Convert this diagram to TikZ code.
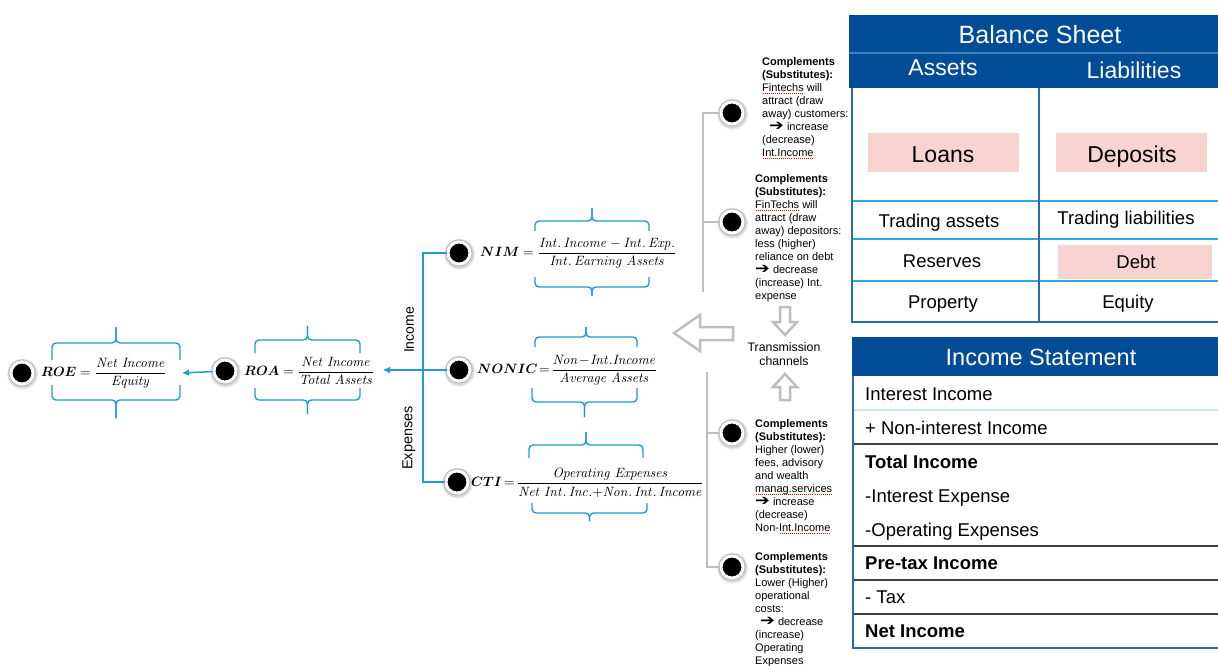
\documentclass[tikz,border=0pt]{standalone}
\usepackage{amsmath}
\usepackage{graphicx}
\usepackage[no-math]{fontspec}
\setmainfont{Liberation Sans}
\newfontfamily\dejavu{DejaVu Sans}
\usetikzlibrary{arrows.meta}
\definecolor{bblue}{RGB}{30,155,215}
\definecolor{dkblue}{RGB}{0,76,151}
\definecolor{steel}{RGB}{40,110,165}
\definecolor{ltline}{RGB}{41,170,225}
\definecolor{pale}{RGB}{200,232,246}
\definecolor{pink}{RGB}{248,212,208}
\definecolor{gline}{RGB}{190,190,190}
\definecolor{dgray}{RGB}{64,64,64}
\definecolor{midblue}{RGB}{70,130,195}
\DeclareMathAlphabet{\mathit}{OT1}{cmr}{m}{it}
\newsavebox\spellbox
\newcommand\spell[1]{\sbox\spellbox{#1}\rlap{\raisebox{-2.8pt}{\color{red}\hbox to \wd\spellbox{\xleaders\hbox to 2pt{\hss\rule{1pt}{0.7pt}\hss}\hfill}}}\usebox\spellbox}
\newcommand\arr{\raisebox{-0.3pt}{\scalebox{1.6}[1.35]{\dejavu ➔}}}
\newcommand\fml[1]{\scalebox{1.35}{$\displaystyle #1$}}
\newcommand\brk[5]{%
  \draw[brace] (#1,#4) |- ({(#1+#2)/2},#3) -- ({(#1+#2)/2},#5);
  \draw[brace] (#2,#4) |- ({(#1+#2)/2},#3) -- ({(#1+#2)/2},#5);}
\begin{document}
\begin{tikzpicture}[x=1pt,y=-1pt,
  bullet/.style={circle,fill=black,draw=white,line width=3pt,minimum size=22pt,inner sep=0pt,
    preaction={draw=black!8,line width=9pt,transform canvas={shift={(0.6pt,-1.2pt)}}},
    preaction={draw=black!16,line width=7pt,transform canvas={shift={(0.4pt,-0.8pt)}}},
    preaction={draw=black!28,line width=5pt}},
  brace/.style={draw=bblue,line width=1.4pt,rounded corners=4pt},
  bluearrow/.style={draw=bblue,line width=1.5pt,-{Latex[length=7pt,width=7pt]}},
  blueline/.style={draw=bblue,line width=1.5pt},
  grayline/.style={draw=gline,line width=1.5pt},
  hollow/.style={draw=gline,line width=2.5pt,fill=white,line join=miter},
  formula/.style={anchor=west,inner sep=0pt},
  comp/.style={anchor=north west,align=left,inner sep=0pt,font=\fontsize{11}{13}\selectfont},
  bstitle/.style={anchor=base,text=white,inner sep=0pt,font=\fontsize{25}{28}\selectfont},
  bshead/.style={anchor=base,text=white,inner sep=0pt,font=\fontsize{23}{26}\selectfont},
  cell/.style={anchor=base,inner sep=0pt,font=\fontsize{18.5}{21}\selectfont},
  bigcell/.style={anchor=base,inner sep=0pt,font=\fontsize{23}{26}\selectfont},
  pinkbox/.style={fill=pink,inner sep=0pt},
  isrow/.style={anchor=base west,inner sep=0pt,font=\fontsize{18.5}{21}\selectfont},
  isbold/.style={anchor=base west,inner sep=0pt,font=\fontsize{18.5}{21}\selectfont\bfseries},
  side/.style={rotate=90,inner sep=0pt}
]
\useasboundingbox (0,0) rectangle (1218,665);
\fill[white] (0,0) rectangle (1218,665);

% ---------- braces ----------
\brk{52}{180}{343}{360}{327}
\brk{52}{180}{400}{385}{418}
\brk{255}{360}{340}{353}{326}
\brk{255}{360}{400}{388}{414}
\brk{535}{649}{221}{231}{208}
\brk{535}{649}{287}{277}{296}
\brk{535}{637}{337}{347}{327}
\brk{532}{637}{402}{388}{417}
\brk{529}{643}{445}{458}{432}
\brk{532}{647}{513}{503}{521}

% ---------- bullets ----------
\node[bullet] (b-roe) at (22,373) {};
\node[bullet] (b-roa) at (225,371) {};
\node[bullet] (b-nim) at (459,253) {};
\node[bullet] (b-nonic) at (459,370) {};
\node[bullet] (b-cti) at (457,482) {};
\node[bullet] (b-c1) at (732,113) {};
\node[bullet] (b-c2) at (732,222) {};
\node[bullet] (b-c3) at (732,433) {};
\node[bullet] (b-c4) at (732,567) {};

% ---------- formulas ----------
\node[formula] (f-roe) at (41,373) {\fml{\boldsymbol{ROE}=\frac{\mathit{Net\ Income}}{\mathit{Equity}}}};
\node[formula] (f-roa) at (244,371) {\fml{\boldsymbol{ROA}=\frac{\mathit{Net\ Income}}{\mathit{Total\ Assets}}}};
\node[formula] (f-nim) at (480,253) {\fml{\boldsymbol{NIM}=\frac{\mathit{Int.\,Income}-\mathit{Int.\,Exp.}}{\mathit{Int.\,Earning\ Assets}}}};
\node[formula] (f-nonic) at (477,370) {\fml{\boldsymbol{NONIC}\!=\!\frac{\mathit{Non}\!-\!\mathit{Int.Income}}{\mathit{Average\ Assets}}}};
\node[formula] (f-cti) at (471,483) {\fml{\boldsymbol{CTI}\,{=}\,\frac{\mathit{Operating\ Expenses}}{\mathit{Net\ Int.\,Inc.}{+}\mathit{Non.\,Int.\,Income}}}};

% ---------- blue connectors ----------
\coordinate (roe-end) at (182,373);
\coordinate (roa-end) at (383,370);
\coordinate (vtop) at (423,253);
\coordinate (vbot) at (423,482);
\draw[bluearrow] (b-roa) -- (roe-end);
\draw[bluearrow] (b-nonic) -- (roa-end);
\draw[blueline] (b-nim) -- (vtop) -- (vbot) -- (b-cti);
\node[side,font=\fontsize{14}{16}\selectfont] (l-inc) at (409,330) {Income};
\node[side,font=\fontsize{14.5}{16}\selectfont] (l-exp) at (409,438) {Expenses};

% ---------- gray connectors ----------
\coordinate (g1) at (703,292);
\coordinate (g1top) at (703,113);
\coordinate (g1mid) at (703,222);
\coordinate (g2) at (707,372);
\coordinate (g2mid) at (707,433);
\coordinate (g2bot) at (707,567);
\draw[grayline] (g1) -- (g1top) -- (b-c1);
\draw[grayline] (g1mid) -- (b-c2);
\draw[grayline] (g2) -- (g2bot) -- (b-c4);
\draw[grayline] (g2mid) -- (b-c3);

% ---------- transmission ----------
\draw[hollow] (780,307) -- (790,307) -- (790,322) -- (797,322) -- (785,335) -- (773,322) -- (780,322) -- cycle;
\draw[hollow] (780,400) -- (790,400) -- (790,387) -- (797,387) -- (785,374) -- (773,387) -- (780,387) -- cycle;
\draw[hollow] (674,333) -- (700,315) -- (700,327) -- (733,327) -- (733,340) -- (700,340) -- (700,351) -- cycle;
\node[align=center,inner sep=0pt,font=\fontsize{12.3}{14}\selectfont] (trans) at (784,354) {Transmission\\channels};

% ---------- complement texts ----------
\node[comp] (t-c1) at (762,57) {\textbf{Complements}\\\textbf{(Substitutes):}\\\spell{Fintechs} will\\attract (draw\\away) customers:\\\hspace*{7pt}\arr\ increase\\(decrease)\\\spell{Int.Income}};
\node[comp] (t-c2) at (755,174) {\textbf{Complements}\\\textbf{(Substitutes):}\\\spell{FinTechs} will\\attract (draw\\away) depositors:\\less (higher)\\reliance on debt\\\arr\ decrease\\(increase) Int.\\expense};
\node[comp] (t-c3) at (755,419) {\textbf{Complements}\\\textbf{(Substitutes):}\\Higher (lower)\\fees, advisory\\and wealth\\\spell{manag.services}\\\arr\ increase\\(decrease)\\Non-\spell{Int.Income}};
\node[comp] (t-c4) at (755,552) {\textbf{Complements}\\\textbf{(Substitutes):}\\Lower (Higher)\\operational\\costs:\\\hspace*{5pt}\arr\ decrease\\(increase)\\Operating\\Expenses};

% ---------- balance sheet ----------
\fill[dkblue] (849,15) rectangle (1218,88);
\draw[midblue,line width=1.2pt] (849,53) -- (1218,53);
\draw[ltline,line width=1.5pt] (852,201) -- (1218,201);
\draw[ltline,line width=1.5pt] (852,239) -- (1218,239);
\draw[ltline,line width=1.5pt] (852,281) -- (1218,281);
\draw[steel,line width=2.5pt] (852,88) -- (852,322) -- (1218,322);
\draw[steel,line width=2.5pt] (1039,88) -- (1039,322);
\node[bstitle] (bs-title) at (1040,43) {Balance Sheet};
\node[bshead] (bs-assets) at (943,75) {Assets};
\node[bshead] (bs-liab) at (1134,78) {Liabilities};
\node[pinkbox,minimum width=151pt,minimum height=39pt] (bs-loanbox) at (943.5,152.5) {};
\node[bigcell] (bs-loans) at (943,162) {Loans};
\node[pinkbox,minimum width=151pt,minimum height=39pt] (bs-depbox) at (1131.5,152.5) {};
\node[bigcell] (bs-dep) at (1132,162) {Deposits};
\node[cell] (bs-ta) at (939,227) {Trading assets};
\node[cell] (bs-tl) at (1126,224) {Trading liabilities};
\node[cell] (bs-res) at (942,267) {Reserves};
\node[pinkbox,minimum width=154pt,minimum height=34pt] (bs-debtbox) at (1135,262) {};
\node[cell] (bs-debt) at (1136,268) {Debt};
\node[cell] (bs-prop) at (943,308) {Property};
\node[cell] (bs-eq) at (1128,308) {Equity};

% ---------- income statement ----------
\fill[dkblue] (852,337) rectangle (1218,376);
\draw[pale,line width=1.5pt] (853,410) -- (1218,410);
\draw[dgray,line width=2pt] (853,444) -- (1218,444);
\draw[dgray,line width=2pt] (853,546) -- (1218,546);
\draw[dgray,line width=2pt] (853,580) -- (1218,580);
\draw[dgray,line width=2pt] (853,614) -- (1218,614);
\draw[steel,line width=2pt] (853,376) -- (853,648) -- (1218,648);
\node[bshead,font=\fontsize{23.5}{26}\selectfont] (is-title) at (1041,365) {Income Statement};
\node[isrow] (is-1) at (865,400) {Interest Income};
\node[isrow] (is-2) at (865,434) {+ Non-interest Income};
\node[isbold] (is-3) at (865,468) {Total Income};
\node[isrow] (is-4) at (865,502) {-Interest Expense};
\node[isrow] (is-5) at (865,536) {-Operating Expenses};
\node[isbold] (is-6) at (865,569) {Pre-tax Income};
\node[isrow] (is-7) at (865,603) {- Tax};
\node[isbold] (is-8) at (865,637) {Net Income};
\end{tikzpicture}
\end{document}
